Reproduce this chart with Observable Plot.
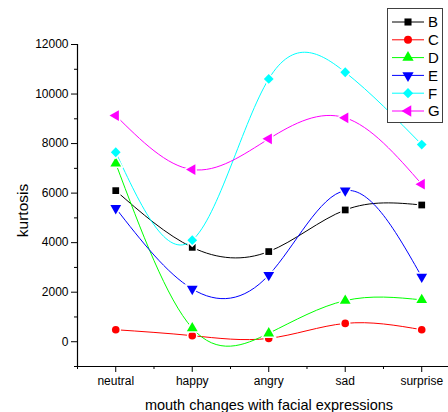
<!DOCTYPE html>
<html>
<head>
<meta charset="utf-8">
<script src="https://cdn.jsdelivr.net/npm/d3@7"></script>
<script src="https://cdn.jsdelivr.net/npm/@observablehq/plot@0.6"></script>
<style>
  body { margin: 0; background: white; }
  #wrap { position: relative; width: 448px; height: 412px; font-family: "Liberation Sans", Arial, sans-serif; }
  #legend { position: absolute; left: 387px; top: 8px; width: 54px; height: 113px; border: 1px solid #404040; background: white; }
</style>
</head>
<body>
<div id="wrap"><div id="legend"></div></div>
<script>
const categories = ["neutral", "happy", "angry", "sad", "surprise"];
const seriesNames = ["B", "C", "D", "E", "F", "G"];
const B = [6100, 3810, 3640, 5320, 5520];
const C = [485, 245, 135, 740, 485];
const D = [7200, 550, 340, 1660, 1690];
const E = [5390, 2130, 2690, 6100, 2620];
const F = [7650, 4100, 10610, 10880, 7960];
const G = [9130, 6950, 8190, 9040, 6360];
const yMajorTicks = [0, 2000, 4000, 6000, 8000, 10000, 12000];
const yMinorTicks = [-1000, 1000, 3000, 5000, 7000, 9000, 11000];
const xMinorTicks = [0.5, 1.5, 2.5, 3.5, 4.5];

const seriesValues = [B, C, D, E, F, G];
const colors = ["#000000", "#ff0000", "#00ff00", "#0000ff", "#00ffff", "#ff00ff"];
const symbols = ["square", "circle", "triangle", "triangle", "square", "triangle"];
const rotations = [0, 0, 0, 180, 45, -90];
const radii = [3.8, 3.8, 4, 4, 3.9, 4];

const data = [];
seriesNames.forEach((s, k) => seriesValues[k].forEach((v, i) => data.push({series: s, idx: i + 1, cat: categories[i], value: v})));

const dotMarks = seriesNames.map((s, k) =>
  Plot.dot(data.filter(d => d.series === s), {
    x: "idx", y: "value", symbol: symbols[k], rotate: rotations[k], r: radii[k],
    fill: colors[k], stroke: "white", strokeWidth: 3, paintOrder: "stroke"
  })
);

const chart = Plot.plot({
  width: 448, height: 412,
  marginLeft: 77, marginRight: 0, marginTop: 44, marginBottom: 46,
  x: {type: "linear", domain: [0.5, 5.35]},
  y: {domain: [-1000, 12000]},
  color: {domain: seriesNames, range: colors},
  style: {fontFamily: "'Liberation Sans', Arial, sans-serif", fontSize: "12px", color: "black", background: "white"},
  marks: [
    Plot.ruleX([0.5], {stroke: "black", strokeWidth: 1.2}),
    Plot.ruleY([-1000], {stroke: "black", strokeWidth: 1.2}),
    Plot.axisY({ticks: yMajorTicks, tickSize: 6, tickPadding: 3, tickFormat: d => String(d),
      label: "kurtosis", labelAnchor: "center", labelArrow: "none", labelOffset: 61}),
    Plot.axisY({ticks: yMinorTicks, tickSize: 3, tickFormat: () => "", label: null}),
    Plot.axisX({ticks: [1, 2, 3, 4, 5], tickSize: 6, tickPadding: 4, tickFormat: d => categories[d - 1],
      label: "mouth changes with facial expressions", labelAnchor: "center", labelArrow: "none", labelOffset: 42}),
    Plot.axisX({ticks: xMinorTicks, tickSize: 3, tickFormat: () => "", label: null}),
    Plot.line(data, {x: "idx", y: "value", z: "series", stroke: "series", curve: "natural", strokeWidth: 1}),
    ...dotMarks
  ]
});

function shift(sel, dx, dy, fs) {
  d3.select(chart).selectAll(sel).attr("font-size", fs).attr("transform", function () {
    return (this.getAttribute("transform") || "") + ` translate(${dx},${dy})`;
  });
}
shift('g[aria-label="y-axis label"]', 0, 5, 15.5);
shift('g[aria-label="x-axis label"]', 6, 1, 14.5);
document.getElementById("wrap").prepend(chart);

// legend
const lg = d3.select("#legend").append("svg").attr("width", 54).attr("height", 113)
  .style("font-family", "'Liberation Sans', Arial, sans-serif");
seriesNames.forEach((s, k) => {
  const y = 13 + k * 17.8;
  const g = lg.append("g").attr("transform", `translate(0,${y})`);
  g.append("line").attr("x1", 4).attr("x2", 36).attr("y1", 0).attr("y2", 0).attr("stroke", colors[k]).attr("stroke-width", 1);
  const type = symbols[k] === "square" ? d3.symbolSquare : symbols[k] === "circle" ? d3.symbolCircle : d3.symbolTriangle;
  g.append("path").attr("d", d3.symbol(type, Math.PI * radii[k] * radii[k] * 1.1)())
    .attr("transform", `translate(20,0) rotate(${rotations[k]})`).attr("fill", colors[k]);
  g.append("text").attr("x", 40).attr("y", 0).attr("dy", "0.36em").attr("font-size", 15).attr("fill", "black").text(s);
});
</script>
</body>
</html>
